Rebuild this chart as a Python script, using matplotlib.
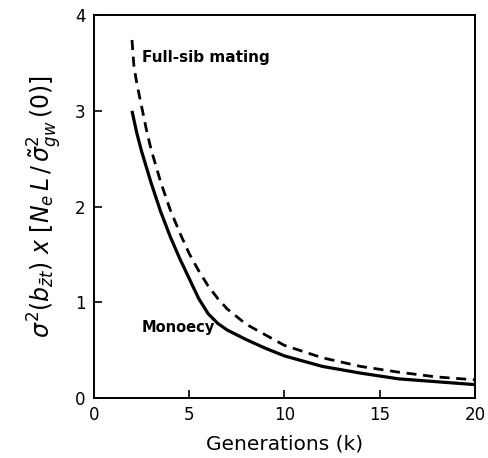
import matplotlib
matplotlib.use("Agg")
import matplotlib.pyplot as plt

# Generations k and scaled sampling variance for the two mating systems
gen_monoecy = [2, 2.25, 2.5, 3, 3.5, 4, 4.5, 5, 5.5, 6, 6.5, 7, 8, 9, 10,
               12, 14, 16, 18, 20]
monoecy = [3.0, 2.77, 2.58, 2.25, 1.95, 1.69, 1.46, 1.25, 1.04, 0.88, 0.78,
           0.71, 0.61, 0.52, 0.44, 0.33, 0.26, 0.20, 0.17, 0.14]

gen_full_sib = [2, 2.1, 2.25, 2.5, 2.75, 3, 3.5, 4, 4.5, 5, 5.5, 6, 6.5, 7,
                8, 9, 10, 12, 14, 16, 18, 20]
full_sib = [3.74, 3.47, 3.29, 3.05, 2.81, 2.6, 2.26, 1.97, 1.73, 1.51, 1.33,
            1.17, 1.04, 0.93, 0.77, 0.66, 0.55, 0.42, 0.33, 0.27, 0.22, 0.19]

x_ticks = [0, 5, 10, 15, 20]
y_ticks = [0, 1, 2, 3, 4]

plt.rcParams["font.family"] = ["DejaVu Sans"]
plt.rcParams["mathtext.fontset"] = "dejavusans"

fig = plt.figure(figsize=(4.89, 4.58), dpi=100)
ax = fig.add_axes([0.192, 0.131, 0.779, 0.836])

ax.plot(gen_monoecy, monoecy, color="black", lw=2.3, solid_capstyle="butt",
        solid_joinstyle="round")
ax.plot(gen_full_sib, full_sib, color="black", lw=2.0,
        linestyle=(0, (3.6, 2.4)))

ax.text(2.5, 3.56, "Full-sib mating", fontsize=11, fontweight="bold",
        va="center", ha="left")
ax.text(2.5, 0.74, "Monoecy", fontsize=10.5, fontweight="bold",
        va="center", ha="left")

ax.set_xlim(0, 20)
ax.set_ylim(0, 4)
ax.set_xticks(x_ticks)
ax.set_yticks(y_ticks)
ax.tick_params(direction="in", length=6, width=1.2, labelsize=12,
               top=False, right=False, pad=6)
for s in ax.spines.values():
    s.set_linewidth(1.4)

ax.set_xlabel("Generations (k)", fontsize=14.5, labelpad=7)
ax.set_ylabel(r"$\sigma^2(b_{\bar{z}t})\ x\ [N_e\,L\,/\,\tilde{\sigma}^2_{gw}\,(0)]$",
              fontsize=17, labelpad=8)

fig.savefig("out.png", dpi=100)
